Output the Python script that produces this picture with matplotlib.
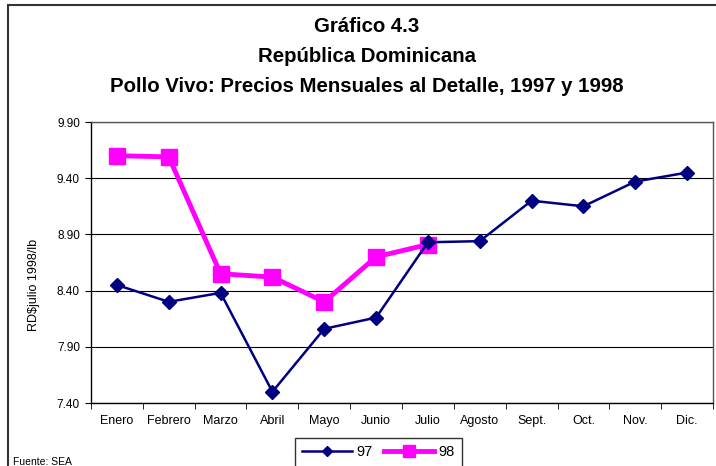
import numpy as np
import matplotlib
matplotlib.use("Agg")
import matplotlib.pyplot as plt
from matplotlib.patches import Rectangle

plt.rcParams['font.family'] = ['Liberation Sans', 'DejaVu Sans']

meses = ["Enero", "Febrero", "Marzo", "Abril", "Mayo", "Junio", "Julio",
         "Agosto", "Sept.", "Oct.", "Nov.", "Dic."]
precios_97 = [8.45, 8.30, 8.38, 7.50, 8.06, 8.16, 8.83, 8.84, 9.20, 9.15, 9.37, 9.45]
precios_98 = [9.60, 9.59, 8.55, 8.52, 8.30, 8.70, 8.81]
y_ticks = [7.40, 7.90, 8.40, 8.90, 9.40, 9.90]

W, H = 716, 466
fig = plt.figure(figsize=(W / 100, H / 100), dpi=100)
ax = fig.add_axes([91 / W, 1 - 403 / H, (713 - 91) / W, (403 - 122) / H])

# marco exterior del grafico
fig.patches.append(Rectangle((8 / W, -0.1), 1.0, 1 - 5 / H + 0.1, transform=fig.transFigure,
                             fill=False, edgecolor="#333333", linewidth=1.5, zorder=0))

x97 = np.arange(len(precios_97))
x98 = np.arange(len(precios_98))
l97, = ax.plot(x97, precios_97, color="#000080", linewidth=1.8, marker="D",
               markersize=7, label="97", zorder=4)
l98, = ax.plot(x98, precios_98, color="#FF00FF", linewidth=3.5, marker="s",
               markersize=11, label="98", zorder=3)

ax.set_xlim(-0.5, len(meses) - 0.5)
ax.set_ylim(y_ticks[0], y_ticks[-1])
ax.set_yticks(y_ticks)
ax.set_yticklabels([f"{v:.2f}" for v in y_ticks], fontsize=8.5)
ax.set_xticks(np.arange(len(meses)))
ax.set_xticklabels(meses, fontsize=9)
for lab in ax.get_xticklabels():
    lab.set_verticalalignment("baseline")
ax.set_xticks(np.arange(-0.5, len(meses)), minor=True)
ax.tick_params(axis="x", which="major", length=0, pad=15)
ax.tick_params(axis="x", which="minor", length=4, direction="out", color="black")
ax.tick_params(axis="y", length=4, direction="out", pad=4)
ax.grid(axis="y", color="black", linewidth=0.8)
ax.set_axisbelow(True)
for s in ["left", "bottom"]:
    ax.spines[s].set_color("black")
    ax.spines[s].set_linewidth(1.0)
for s in ["right", "top"]:
    ax.spines[s].set_color("#555555")
    ax.spines[s].set_linewidth(1.0)

fig.text(34 / W, 1 - 285 / H, "RD$julio 1998/lb", rotation=90, fontsize=9,
         ha="center", va="center")

cx = 367 / W
fig.text(cx, 1 - 27 / H, "Gráfico 4.3", fontsize=14.7, fontweight="bold", ha="center", va="center")
fig.text(cx, 1 - 57 / H, "República Dominicana", fontsize=14.7, fontweight="bold", ha="center", va="center")
fig.text(cx, 1 - 87 / H, "Pollo Vivo: Precios Mensuales al Detalle, 1997 y 1998", fontsize=14.7,
         fontweight="bold", ha="center", va="center")

fig.text(13 / W, 1 - 462 / H, "Fuente: SEA", fontsize=7.5, ha="left", va="center")

leg = fig.legend(handles=[l97, l98], loc="upper center", bbox_to_anchor=(378.5 / W, 1 - 438 / H),
                 ncol=2, fontsize=10.5, frameon=True, fancybox=False, edgecolor="black",
                 handlelength=3.4, handletextpad=0.3, columnspacing=0.8, borderpad=0.5,
                 borderaxespad=0, markerscale=0.75)
leg.get_frame().set_linewidth(1.0)

fig.savefig("out.png", dpi=100)
